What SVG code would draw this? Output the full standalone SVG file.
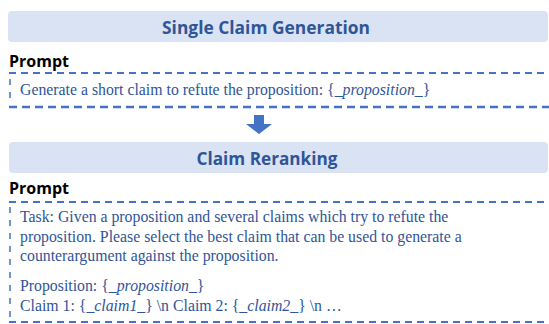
<svg xmlns="http://www.w3.org/2000/svg" width="549" height="324" viewBox="0 0 549 324">
  <style>
    .band { fill: #dae3f3; }
    .title { font-family: "Open Sans", "Liberation Sans", sans-serif; font-weight: bold; font-size: 17px; fill: #2f5597; text-anchor: middle; }
    .label { font-family: "Open Sans", "Liberation Sans", sans-serif; font-weight: bold; font-size: 16px; fill: #000000; }
    .body { font-family: "Liberation Serif", "Times New Roman", serif; font-size: 15.8px; fill: #2f5597; }
    .it { font-style: italic; }
    .edge { stroke: #4472c4; stroke-width: 2; stroke-dasharray: 7 5; fill: none; }
    .edge-heavy { stroke: #4472c4; stroke-width: 2.5; stroke-dasharray: 8 5; fill: none; }
    .side { stroke: #4472c4; stroke-width: 1.5; stroke-dasharray: 6 7; fill: none; }
    .flow { fill: #4472c4; }
  </style>

  <!-- Stage 1: single claim generation -->
  <g id="stage-generation">
    <rect class="band" x="8" y="11" width="540" height="31" rx="4"/>
    <text class="title" x="266" y="34" textLength="208" lengthAdjust="spacingAndGlyphs">Single Claim Generation</text>
    <text class="label" x="9" y="67">Prompt</text>
    <line class="edge" x1="9" y1="73" x2="549" y2="73"/>
    <line class="side" x1="10" y1="79" x2="10" y2="105"/>
    <line class="edge-heavy" x1="9" y1="107" x2="549" y2="107"/>
    <text class="body" x="20" y="95">Generate a short claim to refute the proposition: {<tspan class="it">_proposition_</tspan>}</text>
  </g>

  <!-- Connector between stages -->
  <g id="connectors">
    <polygon class="flow" points="254,115 264,115 264,124 272,124 259,134 246,124 254,124"/>
  </g>

  <!-- Stage 2: claim reranking -->
  <g id="stage-reranking">
    <rect class="band" x="9" y="142" width="539" height="31" rx="4"/>
    <text class="title" x="267" y="165" textLength="141" lengthAdjust="spacingAndGlyphs">Claim Reranking</text>
    <text class="label" x="9" y="194">Prompt</text>
    <line class="edge" x1="9" y1="202" x2="549" y2="202"/>
    <line class="side" x1="10" y1="207" x2="10" y2="320"/>
    <line class="edge" x1="9" y1="322" x2="549" y2="322"/>
    <text class="body" x="20" y="222">Task: Given a proposition and several claims which try to refute the</text>
    <text class="body" x="20" y="241.5">proposition. Please select the best claim that can be used to generate a</text>
    <text class="body" x="20" y="261">counterargument against the proposition.</text>
    <text class="body" x="20" y="291">Proposition: {<tspan class="it">_proposition_</tspan>}</text>
    <text class="body" x="20" y="310.5">Claim 1: {<tspan class="it">_claim1_</tspan>} \n Claim 2: {<tspan class="it">_claim2_</tspan>} \n …</text>
  </g>
</svg>
